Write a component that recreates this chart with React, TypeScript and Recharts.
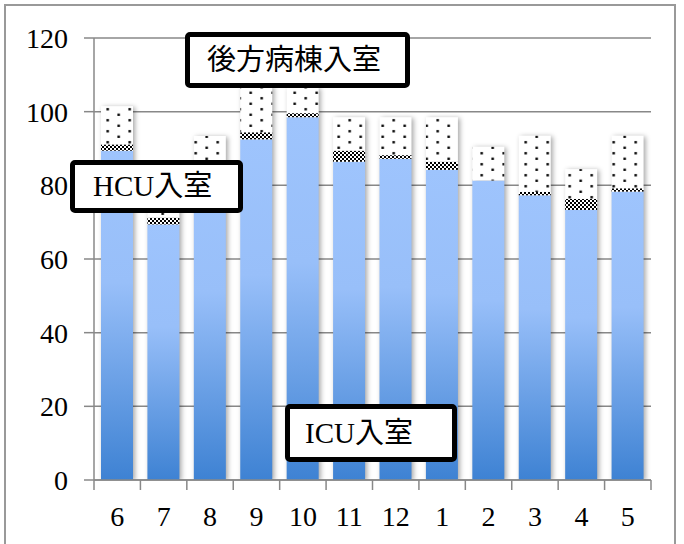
import React from 'react';
import { BarChart, Bar, XAxis, YAxis, CartesianGrid } from 'recharts';

const months = ['6', '7', '8', '9', '10', '11', '12', '1', '2', '3', '4', '5'];
const icuValues = [89.4, 69.4, 85.0, 92.5, 98.5, 86.4, 87.2, 84.2, 81.3, 77.3, 73.3, 78.3];
const hcuValues = [1.7, 1.8, 1.0, 1.9, 1.1, 3.0, 1.0, 2.2, 0, 0.9, 3.0, 0.9];
const backValues = [10.4, 6.0, 7.4, 12.6, 6.9, 9.1, 10.3, 12.1, 9.2, 15.3, 8.1, 14.3];
const yTicks = [0, 20, 40, 60, 80, 100, 120];
const labelBack = '後方病棟入室';
const labelHcu = 'HCU入室';
const labelIcu = 'ICU入室';

const data = months.map((m, i) => ({
  month: m,
  icu: icuValues[i],
  hcu: hcuValues[i],
  back: backValues[i],
}));

const FONT = "'Liberation Serif', 'Noto Sans CJK JP', serif";
const W = 684;
const H = 544;
const X_H = 30;
const M = { top: 38, right: 33, bottom: 64 - X_H, left: 0 };
const Y_W = 94;
const band = (W - M.right - Y_W) / months.length;

const IcuShape = (p: any) => {
  const { x, y, width, height, payload } = p;
  if (!payload || !height) return null;
  const total = payload.icu + payload.hcu + payload.back;
  const per = height / payload.icu;
  const th = total * per;
  const ty = y + height - th;
  return (
    <g>
      <rect x={x} y={ty} width={width} height={th} fill="#000" filter="url(#barShadow)" />
      <rect x={x} y={y} width={width} height={height} fill="url(#icuGrad)" />
    </g>
  );
};

const HcuShape = (p: any) => {
  const { x, y, width, height } = p;
  if (!height || height <= 0) return null;
  return (
    <g>
      <rect x={x} y={y} width={width} height={height} fill="#fff" />
      <rect x={x} y={y} width={width} height={height} fill="url(#checker)" />
    </g>
  );
};

const BackShape = (p: any) => {
  const { x, y, width, height } = p;
  if (!height || height <= 0) return null;
  return (
    <g>
      <rect x={x} y={y} width={width} height={height} fill="#fff" />
      <rect x={x} y={y} width={width} height={height} fill="url(#dots)" />
    </g>
  );
};

const XTick = (p: any) => {
  const { x, y, payload, index } = p;
  const isLast = index === months.length - 1 || payload?.value === months[months.length - 1];
  return (
    <g>
      <line x1={x - band / 2} y1={y} x2={x - band / 2} y2={y + 10} stroke="#888" strokeWidth={1.5} />
      {isLast && (
        <line x1={x + band / 2} y1={y} x2={x + band / 2} y2={y + 10} stroke="#888" strokeWidth={1.5} />
      )}
      <text x={x} y={y + 46} textAnchor="middle" fontSize={28} fontFamily={FONT} fill="#000">
        {payload.value}
      </text>
    </g>
  );
};

const boxStyle = (left: number, top: number, right: number, bottom: number, textLeft: number): React.CSSProperties => ({
  position: 'absolute',
  left,
  top,
  width: right - left,
  height: bottom - top,
  boxSizing: 'border-box',
  border: '5px solid #000',
  borderRadius: 5,
  background: '#fff',
  display: 'flex',
  alignItems: 'center',
  paddingLeft: textLeft - left - 5,
  fontFamily: FONT,
  fontSize: 29,
  color: '#000',
  whiteSpace: 'nowrap',
  lineHeight: 1,
});

export default function App() {
  return (
    <div style={{ position: 'absolute', left: 0, top: 0, width: W, height: H, background: '#fff', overflow: 'hidden' }}>
      <div
        style={{
          position: 'absolute',
          left: 4,
          top: 4,
          width: 672,
          height: 600,
          border: '2px solid #999',
          boxSizing: 'border-box',
        }}
      />
      <div style={{ position: 'absolute', left: 0, top: 0 }}>
        <BarChart width={W} height={H} data={data} margin={M} barSize={32}>
          <defs>
            <linearGradient id="icuGrad" x1="0" y1="0" x2="0" y2="1">
              <stop offset="0%" stopColor="#9EC4FD" />
              <stop offset="40%" stopColor="#98BFF9" />
              <stop offset="100%" stopColor="#3E82D3" />
            </linearGradient>
            <pattern id="checker" patternUnits="userSpaceOnUse" width="4" height="4">
              <rect x="0" y="0" width="4" height="4" fill="#fff" />
              <rect x="0" y="0" width="2" height="2" fill="#000" />
              <rect x="2" y="2" width="2" height="2" fill="#000" />
            </pattern>
            <pattern id="dots" patternUnits="userSpaceOnUse" width="22" height="11" patternTransform="translate(3.2,1.95)">
              <rect x="4.3" y="1.6" width="2.4" height="2.4" fill="#000" />
              <rect x="15.3" y="7.1" width="2.4" height="2.4" fill="#000" />
            </pattern>
            <filter id="barShadow" x="-50%" y="-20%" width="200%" height="140%">
              <feGaussianBlur in="SourceAlpha" stdDeviation="2.5" />
              <feOffset dx="2" dy="1" result="b" />
              <feFlood floodColor="#000" floodOpacity="0.35" />
              <feComposite in2="b" operator="in" />
            </filter>
          </defs>
          <CartesianGrid vertical={false} stroke="#888" strokeWidth={1.5} />
          <XAxis
            dataKey="month"
            height={X_H}
            axisLine={{ stroke: '#888', strokeWidth: 1.5 }}
            tickLine={false}
            tickSize={0}
            tickMargin={0}
            interval={0}
            tick={<XTick />}
          />
          <YAxis
            domain={[0, 120]}
            ticks={yTicks}
            width={Y_W}
            interval={0}
            tickSize={10}
            tickMargin={16}
            axisLine={{ stroke: '#888', strokeWidth: 1.5 }}
            tickLine={{ stroke: '#888', strokeWidth: 1.5 }}
            tick={{ fontSize: 28, fontFamily: FONT, fill: '#000' }}
            allowDataOverflow
          />
          <Bar dataKey="icu" stackId="s" shape={<IcuShape />} isAnimationActive={false} />
          <Bar dataKey="hcu" stackId="s" shape={<HcuShape />} isAnimationActive={false} />
          <Bar dataKey="back" stackId="s" shape={<BackShape />} isAnimationActive={false} />
        </BarChart>
      </div>
      <div style={boxStyle(185, 32, 410, 88, 207)}>{labelBack}</div>
      <div style={boxStyle(70, 160, 243, 213, 93)}>{labelHcu}</div>
      <div style={boxStyle(285, 404, 457, 462, 305)}>{labelIcu}</div>
    </div>
  );
}
